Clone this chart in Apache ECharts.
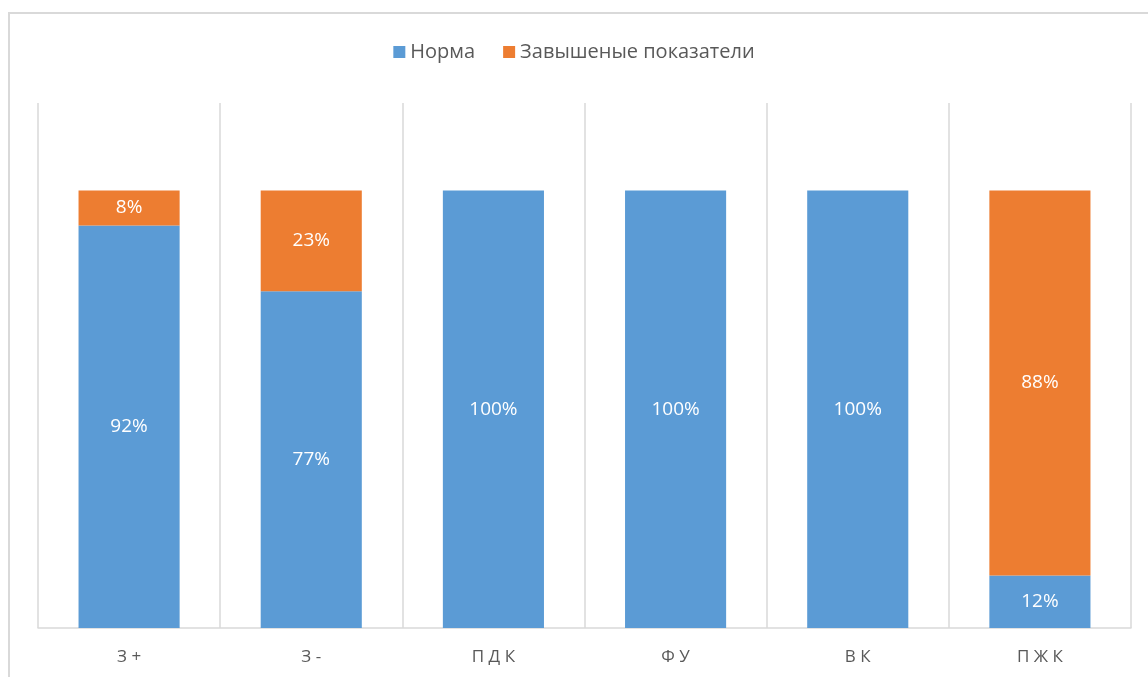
<!DOCTYPE html>
<html><head><meta charset="utf-8">
<script src="https://cdn.jsdelivr.net/npm/echarts@6/dist/echarts.min.js"></script>
<style>
html,body{margin:0;padding:0;background:#fff;overflow:hidden}
#frame{position:absolute;left:8px;top:12px;width:1200px;height:720px;border:2px solid #d9d9d9;box-sizing:border-box}
#c{position:absolute;left:0;top:0;width:1148px;height:677px}
</style></head>
<body><div id="frame"></div><div id="c"></div>
<script>
const categories = ['З +', 'З -', 'П Д К', 'Ф У', 'В К', 'П Ж К'];
const normaValues = [92, 77, 100, 100, 100, 12];
const highValues = [8, 23, 0, 0, 0, 88];
const seriesNames = ['Норма', 'Завышеные показатели'];

const chart = echarts.init(document.getElementById('c'));
const lbl = {show:true, position:'inside', color:'#fff', fontSize:19, fontFamily:'Open Sans',
  formatter: p => p.value > 0 ? p.value + '%' : ''};
chart.setOption({
  animation:false,
  legend:{top:37, left:'center', itemWidth:12, itemHeight:12, itemGap:28, icon:'rect',
    textStyle:{fontSize:20, color:'#595959', fontFamily:'Open Sans'}, data:seriesNames},
  grid:{left:38, right:17, top:103, bottom:49},
  xAxis:{type:'category', data:categories,
    axisLine:{lineStyle:{color:'#d9d9d9', width:1.5}}, axisTick:{show:false},
    splitLine:{show:true, lineStyle:{color:'#d9d9d9', width:1.5}},
    axisLabel:{fontSize:17, color:'#595959', margin:21, fontFamily:'Open Sans'}},
  yAxis:{type:'value', min:0, max:120, show:false, splitLine:{show:false}},
  series:[
    {name:seriesNames[0], type:'bar', stack:'s', data:normaValues, barWidth:'55.5%',
      itemStyle:{color:'#5B9BD5'}, label:lbl},
    {name:seriesNames[1], type:'bar', stack:'s', data:highValues, barWidth:'55.5%',
      itemStyle:{color:'#ED7D31'}, label:lbl}
  ]
});
</script></body></html>
